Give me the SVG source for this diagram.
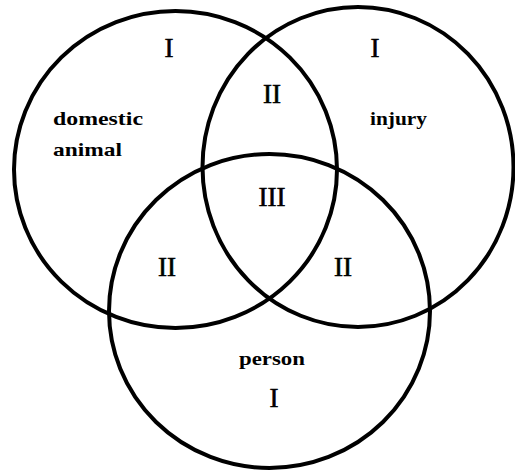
<svg xmlns="http://www.w3.org/2000/svg" width="515" height="472" viewBox="0 0 515 472">
<style>
.c{fill:none;stroke:#000;stroke-width:4}
.n{font-family:"Liberation Serif",serif;font-size:27px;fill:#000;stroke:#000;stroke-width:0.6;text-anchor:middle}
.l{font-family:"Liberation Serif",serif;font-size:19px;font-weight:bold;fill:#000}
</style>
<rect width="515" height="472" fill="#fff"/>
<g id="connectors"></g>
<g id="domestic-animal">
<ellipse class="c" cx="175.5" cy="169.5" rx="161.5" ry="158.5"/>
<text class="l" x="53" y="125" textLength="90" lengthAdjust="spacingAndGlyphs">domestic</text>
<text class="l" x="53" y="156" textLength="69" lengthAdjust="spacingAndGlyphs">animal</text>
<text class="n" x="169" y="57">I</text>
</g>
<g id="injury">
<ellipse class="c" cx="358" cy="167" rx="155.5" ry="160"/>
<text class="l" x="370" y="125" textLength="57" lengthAdjust="spacingAndGlyphs">injury</text>
<text class="n" x="375" y="57">I</text>
</g>
<g id="person">
<ellipse class="c" cx="269.5" cy="311" rx="160.5" ry="157"/>
<text class="l" x="239" y="365" textLength="66" lengthAdjust="spacingAndGlyphs">person</text>
<text class="n" x="274" y="407">I</text>
</g>
<g id="overlaps">
<text class="n" x="272" y="103">II</text>
<text class="n" x="272" y="206">III</text>
<text class="n" x="167" y="276">II</text>
<text class="n" x="343" y="276">II</text>
</g>
</svg>
